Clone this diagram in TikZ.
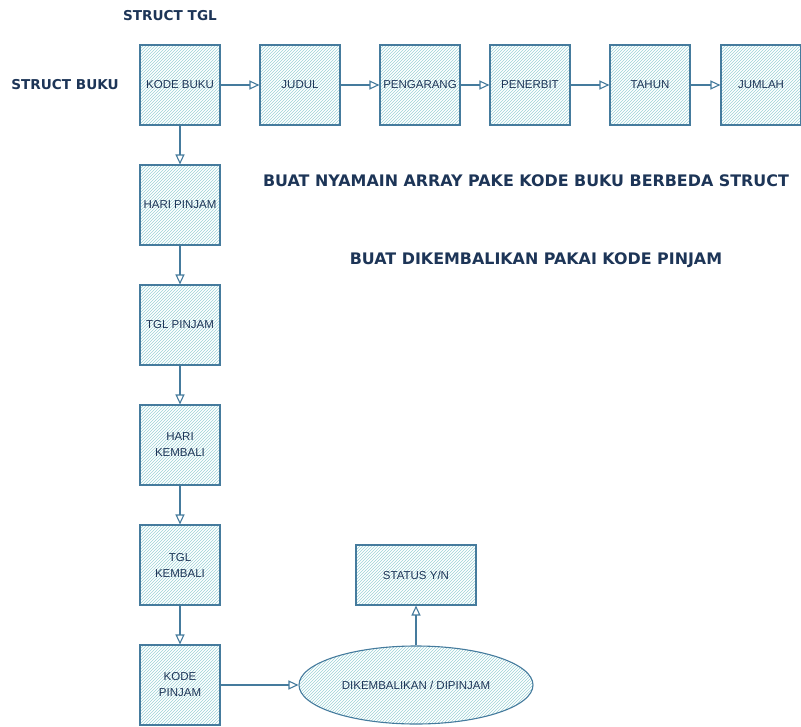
\documentclass[tikz,border=0pt]{standalone}
\usepackage{fontspec}
\setmainfont{Liberation Sans}
\newfontfamily\notefont{DejaVu Sans}
\usetikzlibrary{arrows.meta,positioning,shapes.geometric,patterns}
\definecolor{edgeblue}{HTML}{457B9D}
\definecolor{navy}{HTML}{1D3557}
\definecolor{hatch}{HTML}{9CD2D6}

\begin{document}
\begin{tikzpicture}[x=1pt,y=-1pt,>={Triangle[open,length=10pt,width=9pt]},node distance=120pt,on grid,
  box/.style={draw=edgeblue,line width=1.1pt,fill=white,pattern=north east lines,pattern color=hatch,
    minimum width=80pt,minimum height=80pt,inner sep=1pt,align=center,text=navy,
    font=\fontsize{11.5}{16}\selectfont},
  note/.style={text=navy,font=\notefont\bfseries\fontsize{15.9}{18}\selectfont},
  title/.style={text=navy,font=\notefont\bfseries\fontsize{13.6}{16}\selectfont}]
  \useasboundingbox (0,0) rectangle (801,726);
  \node[box]          (KB) at (180,85)             {KODE BUKU};
  \node[box]          (JD) [right=of KB]           {JUDUL};
  \node[box]          (PG) [right=of JD]           {PENGARANG};
  \node[box]          (PB) [right=110pt of PG]     {PENERBIT};
  \node[box]          (TH) [right=of PB]           {TAHUN};
  \node[box]          (JM) [right=111pt of TH]     {JUMLAH};
  \node[box]          (HP) [below=of KB]           {HARI PINJAM};
  \node[box]          (TP) [below=of HP]           {TGL PINJAM};
  \node[box]          (HK) [below=of TP]           {HARI\\KEMBALI};
  \node[box]          (TK) [below=of HK]           {TGL\\KEMBALI};
  \node[box]          (KP) [below=of TK]           {KODE\\PINJAM};
  \node[box,ellipse,minimum width=234pt,minimum height=78pt]
                      (DK) [right=236pt of KP]     {DIKEMBALIKAN / DIPINJAM};
  \node[box,minimum width=120pt,minimum height=60pt]
                      (ST) [above=110pt of DK]     {STATUS Y/N};
  \node[title]        (SB) [left=115pt of KB]      {STRUCT BUKU};
  \node[title]        (SG) [above=69pt of KB,xshift=-10pt] {STRUCT TGL};
  \node[note]         (N1) at (526,181)            {BUAT NYAMAIN ARRAY PAKE KODE BUKU BERBEDA STRUCT};
  \node[note]         (N2) at (536,260)            {BUAT DIKEMBALIKAN PAKAI KODE PINJAM};
\tikzset{link/.style={->,draw=edgeblue,line width=1.1pt}}
\path (KB) edge [link] (JD)
      (JD) edge [link] (PG)
      (PG) edge [link] (PB)
      (PB) edge [link] (TH)
      (TH) edge [link] (JM);
\path (KB) edge [link] (HP)
      (HP) edge [link] (TP)
      (TP) edge [link] (HK)
      (HK) edge [link] (TK)
      (TK) edge [link] (KP)
      (KP) edge [link] (DK)
      (DK) edge [link] (ST);
\end{tikzpicture}
\end{document}
